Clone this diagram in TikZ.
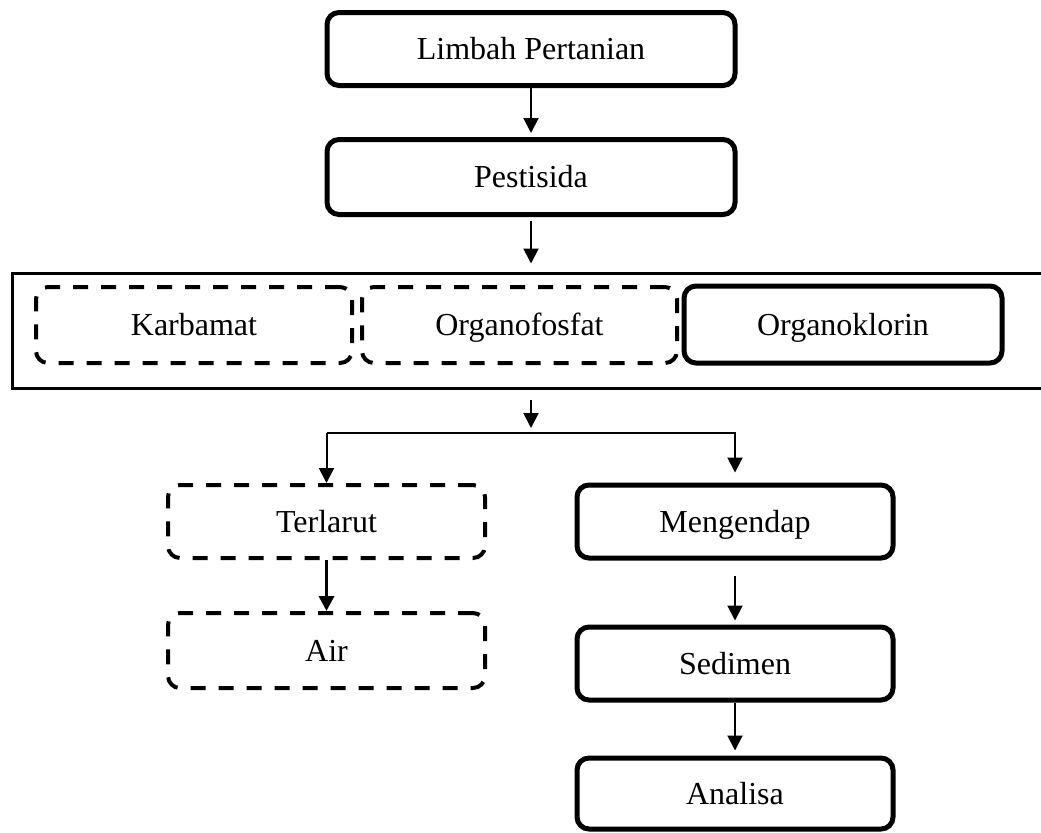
\documentclass[tikz,border=0pt]{standalone}
\usepackage{fontspec}
\setmainfont{Liberation Serif}
\usetikzlibrary{arrows.meta,calc}
\begin{document}
\begin{tikzpicture}[x=0.75pt,y=-0.75pt,
  every node/.style={font=\fontsize{24}{28}\selectfont, text height=15.9pt, text depth=0pt, inner sep=0pt},
  solidbox/.style={draw, line width=3.75pt, rounded corners=9pt, minimum width=#1*0.75pt},
  dashbox/.style={draw, line width=3pt, rounded corners=9pt, dash pattern=on 11.25pt off 9.75pt, minimum width=#1*0.75pt},
  arr/.style={draw, line width=1.5pt, -{Triangle[length=11.25pt,width=11.25pt]}},
  thickarr/.style={draw, line width=2.6pt, -{Triangle[length=11.25pt,width=11.25pt]}},
  branch/.style={draw, line width=1.1pt}
]
\useasboundingbox (0,0) rectangle (1041,832);

\node[solidbox=408, minimum height=73*0.75pt] (lp) at (531,49) {Limbah Pertanian};
\node[solidbox=408, minimum height=75*0.75pt] (ps) at (531,177) {Pestisida};

\node[draw, line width=2.25pt, minimum width=1038*0.75pt, minimum height=115*0.75pt] (grp) at (531,330.5) {};
\node[dashbox=316, minimum height=76*0.75pt] (kb) at (194,325) {Karbamat};
\node[dashbox=315, minimum height=76*0.75pt] (of) at (519.5,325) {Organofosfat};
\node[solidbox=318, minimum height=77*0.75pt] (ok) at (843,324.5) {Organoklorin};

\node[dashbox=317, minimum height=73*0.75pt] (tl) at (326.5,521.5) {Terlarut};
\node[dashbox=317, minimum height=75*0.75pt] (air) at (326.5,650.5) {Air};

\node[solidbox=316, minimum height=73*0.75pt] (mg) at (735,521.5) {Mengendap};
\node[solidbox=316, minimum height=73*0.75pt] (sd) at (735,663.5) {Sedimen};
\node[solidbox=316, minimum height=71*0.75pt] (an) at (735,793.5) {Analisa};

\coordinate (jl) at (326.5,433);
\coordinate (jr) at (735,433);
\coordinate (jm) at (531,433);

\draw[arr] (lp.south) -- ($(ps.north)+(0,-4)$);
\draw[arr] ($(ps.south)+(0,4)$) -- ($(grp.north)+(0,-8)$);
\draw[arr] ($(grp.south)+(0,10)$) -- ($(jm)+(0,-5)$);
\draw[branch] (jl) -- (jr);
\draw[arr] (jl) -- (tl.north);
\draw[arr] ($(jr)+(0,-1)$) -- ($(mg.north)+(0,-10)$);
\draw[thickarr] (tl.south) -- (air.north);
\draw[arr] ($(mg.south)+(0,15)$) -- ($(sd.north)+(0,-4)$);
\draw[arr] (sd.south) -- ($(an.north)+(0,-5)$);
\end{tikzpicture}
\end{document}
